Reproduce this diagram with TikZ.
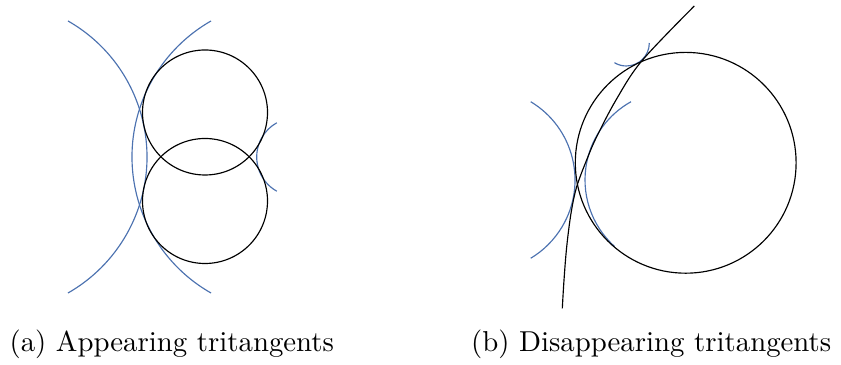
\documentclass[tikz,border=0pt]{standalone}
\usepackage{amsmath}
\usepackage{tikz}
\usetikzlibrary{calc,positioning}
\definecolor{tanblue}{RGB}{76,114,176}

\begin{document}
\begin{tikzpicture}[x=0.3472pt, y=-0.3472pt,
  tangent/.style={tanblue},
  caption/.style={anchor=base west, inner sep=0pt}]
\useasboundingbox (0,0) rectangle (841,365);
% (a) tritangent arcs first, so the circles sit on top
\draw [tangent] (-9.6,157) ++(-60.3:156.6) arc (-60.3:60.3:156.6);
\draw [tangent] (288.6,157) ++(119.7:156.6) arc (119.7:240.3:156.6);
\draw [tangent] (295.9,157) ++(119.2:39.2) arc (119.2:240.8:39.2);
% The two equal circles
\foreach \cy in {112.5, 201} {
  \draw (205,\cy) circle (62.5);
}
% (b) tritangent arcs
\draw [tangent] (483.7,180) ++(-59:91.3) arc (-59:59:91.3);
\draw [tangent] (674.6,180) ++(132:89.6) arc (132:240.9:89.6);
\draw [tangent] (626.3,43) ++(0:23) arc (0:121:23);
% The big circle and the curve through it
\draw (685.7,162.8) circle (110.4);
\draw plot [smooth, tension=0.55] coordinates {
  (562.3,308.3) (564,280) (566.7,246.7) (571,213.3) (576.7,186.7)
  (587.3,158.3) (596.7,136.7) (616,100) (641.7,61) (694.3,6)};
% Captions
\node [caption] (capA) at (9,351.7) {(a) Appearing tritangents};
\node [caption] (capB) at (470.5,351.7) {(b) Disappearing tritangents};
\end{tikzpicture}
\end{document}
